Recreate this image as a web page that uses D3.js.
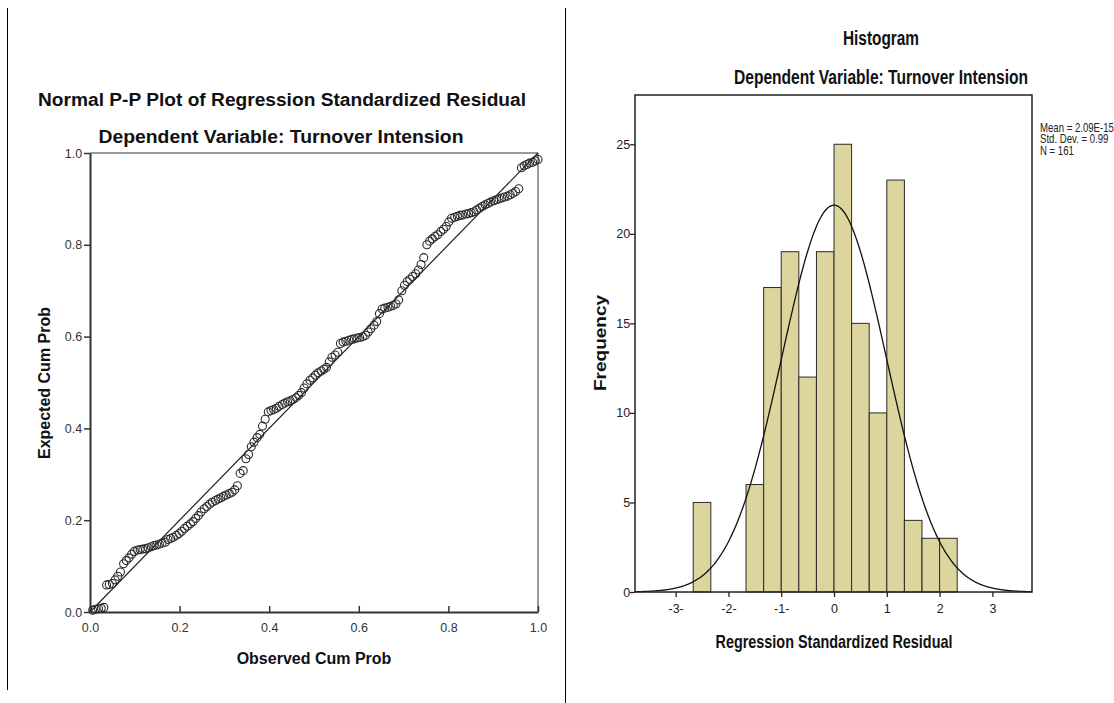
<!DOCTYPE html>
<html><head><meta charset="utf-8">
<script src="https://cdn.jsdelivr.net/npm/d3@7"></script>
<style>
html,body{margin:0;padding:0;background:#fff;}
svg{display:block;}
text{font-family:"Liberation Sans",Arial,sans-serif;}
</style></head>
<body>
<svg id="chart" width="1114" height="703"></svg>
<script>
// ---------- P-P plot data ----------
const ppObserved = [
0.006,0.012,0.019,0.025,0.031,0.037,0.043,0.050,0.056,0.062,0.068,0.075,0.081,0.087,0.093,0.099,0.106,0.112,0.118,0.124,
0.130,0.137,0.143,0.149,0.155,0.161,0.168,0.174,0.180,0.186,0.193,0.199,0.205,0.211,0.217,0.224,0.230,0.236,0.242,0.248,
0.255,0.261,0.267,0.273,0.280,0.286,0.292,0.298,0.304,0.311,0.317,0.323,0.329,0.335,0.342,0.348,0.354,0.360,0.366,0.373,
0.379,0.385,0.391,0.398,0.404,0.410,0.416,0.422,0.429,0.435,0.441,0.447,0.453,0.460,0.466,0.472,0.478,0.484,0.491,0.497,
0.503,0.509,0.516,0.522,0.528,0.534,0.540,0.547,0.553,0.559,0.565,0.571,0.578,0.584,0.590,0.596,0.602,0.609,0.615,0.621,
0.627,0.634,0.640,0.646,0.652,0.658,0.665,0.671,0.677,0.683,0.689,0.696,0.702,0.708,0.714,0.720,0.727,0.733,0.739,0.745,
0.752,0.758,0.764,0.770,0.776,0.783,0.789,0.795,0.801,0.807,0.814,0.820,0.826,0.832,0.839,0.845,0.851,0.857,0.863,0.870,
0.876,0.882,0.888,0.894,0.901,0.907,0.913,0.919,0.925,0.932,0.938,0.944,0.950,0.957,0.963,0.969,0.975,0.981,0.988,0.994,1.000];
const ppExpected = [
0.004,0.006,0.007,0.008,0.010,0.059,0.060,0.062,0.070,0.078,0.087,0.105,0.112,0.118,0.126,0.132,0.135,0.136,0.137,0.138,
0.140,0.142,0.145,0.146,0.148,0.150,0.152,0.158,0.160,0.163,0.167,0.171,0.176,0.182,0.187,0.192,0.197,0.204,0.210,0.218,
0.225,0.230,0.235,0.239,0.243,0.246,0.249,0.252,0.255,0.258,0.261,0.266,0.275,0.302,0.308,0.334,0.343,0.360,0.370,0.380,
0.387,0.405,0.420,0.436,0.439,0.441,0.444,0.448,0.452,0.455,0.458,0.460,0.463,0.467,0.472,0.478,0.488,0.497,0.505,0.510,
0.516,0.521,0.525,0.529,0.533,0.545,0.555,0.560,0.566,0.585,0.588,0.590,0.592,0.594,0.595,0.597,0.598,0.600,0.603,0.610,
0.617,0.625,0.633,0.650,0.660,0.662,0.664,0.666,0.668,0.671,0.680,0.700,0.712,0.720,0.725,0.731,0.737,0.745,0.757,0.772,
0.800,0.808,0.813,0.818,0.822,0.829,0.834,0.840,0.850,0.858,0.860,0.862,0.864,0.865,0.867,0.868,0.870,0.872,0.876,0.880,
0.884,0.887,0.890,0.893,0.896,0.898,0.900,0.902,0.904,0.906,0.909,0.912,0.916,0.922,0.968,0.972,0.975,0.978,0.980,0.983,0.986];
const ppTicks = [0.0, 0.2, 0.4, 0.6, 0.8, 1.0];

// ---------- Histogram data ----------
const binStarts = [-2.667,-1.667,-1.333,-1.0,-0.667,-0.333,0.0,0.333,0.667,1.0,1.333,1.667,2.0];
const binCounts = [5,6,17,19,12,19,25,15,10,23,4,3,3];
const binWidth = 0.333;
const histYTicks = [0,5,10,15,20,25];
const histXTicks = [-3,-2,-1,0,1,2,3];
const histXTickLabels = ["-3-","-2-","-1-","0","1","2","3"];
const statMean = 2.09e-15, statSD = 0.99, statN = 161;
const statLines = ["Mean = 2.09E-15","Std. Dev. = 0.99","N = 161"];

const svg = d3.select("#chart");

// separators
svg.append("line").attr("x1",7.5).attr("x2",7.5).attr("y1",8).attr("y2",690).attr("stroke","#000").attr("stroke-width",1);
svg.append("line").attr("x1",565.5).attr("x2",565.5).attr("y1",8).attr("y2",703).attr("stroke","#000").attr("stroke-width",1);

// ================= P-P plot =================
const px = d3.scaleLinear().domain([0,1]).range([90,538]);
const py = d3.scaleLinear().domain([0,1]).range([612,153]);
const L = svg.append("g");

L.append("text").attr("x",282).attr("y",106).attr("text-anchor","middle")
 .attr("font-size",17.5).attr("font-weight","bold").attr("fill","#111")
 .attr("textLength",488).attr("lengthAdjust","spacingAndGlyphs")
 .text("Normal P-P Plot of Regression Standardized Residual");
L.append("text").attr("x",281).attr("y",143).attr("text-anchor","middle")
 .attr("font-size",17.5).attr("font-weight","bold").attr("fill","#111")
 .attr("textLength",365).attr("lengthAdjust","spacingAndGlyphs")
 .text("Dependent Variable: Turnover Intension");

// frame: top & right gray
L.append("line").attr("x1",px(0)).attr("x2",px(1)).attr("y1",py(1)).attr("y2",py(1)).attr("stroke","#777").attr("stroke-width",1.5);
L.append("line").attr("x1",px(1)).attr("x2",px(1)).attr("y1",py(1)).attr("y2",py(0)).attr("stroke","#777").attr("stroke-width",1.5);

const ppx = d3.axisBottom(px).tickValues(ppTicks).tickFormat(d3.format(".1f")).tickSize(6).tickSizeOuter(0);
const gx = L.append("g").attr("transform",`translate(0,${py(0)})`).call(ppx);
const ppy = d3.axisLeft(py).tickValues(ppTicks).tickFormat(d3.format(".1f")).tickSize(6).tickSizeOuter(0);
const gy = L.append("g").attr("transform",`translate(${px(0)},0)`).call(ppy);
[gx,gy].forEach(g=>{
  g.select(".domain").attr("stroke","#333").attr("stroke-width",2);
  g.selectAll(".tick line").attr("stroke","#333").attr("stroke-width",1.5);
  g.selectAll(".tick text").attr("font-family","Liberation Sans, Arial, sans-serif").attr("font-size",12.5).attr("fill","#333");
});
gx.selectAll(".tick line").attr("y1",-6).attr("y2",0);
gx.selectAll(".tick text").attr("y",11).attr("dy","0.71em");
gy.selectAll(".tick text").attr("dx","0.1em");

L.append("text").attr("x",314).attr("y",664).attr("text-anchor","middle")
 .attr("font-size",16).attr("font-weight","bold").attr("fill","#111").text("Observed Cum Prob");
L.append("text").attr("transform","translate(50,383) rotate(-90)").attr("text-anchor","middle")
 .attr("font-size",16).attr("font-weight","bold").attr("fill","#111").text("Expected Cum Prob");

// reference line
L.append("line").attr("x1",px(0)).attr("y1",py(0)).attr("x2",px(1)).attr("y2",py(1))
 .attr("stroke","#222").attr("stroke-width",1.2);

// points
L.append("g").selectAll("circle").data(ppObserved.map((d,i)=>[d,ppExpected[i]])).join("circle")
 .attr("cx",d=>px(d[0])).attr("cy",d=>py(d[1])).attr("r",4)
 .attr("fill","none").attr("stroke","#2b2b2b").attr("stroke-width",1.1);

// ================= Histogram =================
const hx = d3.scaleLinear().domain([-3.77,3.75]).range([635,1032]);
const hy = d3.scaleLinear().domain([0,27.75]).range([592,95]);
const R = svg.append("g");
const cond = (sel,len)=>sel.attr("textLength",len).attr("lengthAdjust","spacingAndGlyphs");

cond(R.append("text").attr("x",881).attr("y",45).attr("text-anchor","middle")
 .attr("font-size",20).attr("fill","#111").attr("font-weight","bold").text("Histogram"),76);
cond(R.append("text").attr("x",881).attr("y",84).attr("text-anchor","middle")
 .attr("font-size",20).attr("fill","#111").attr("font-weight","bold").text("Dependent Variable: Turnover Intension"),294);

// bars
R.append("g").selectAll("rect").data(binStarts.map((d,i)=>({x0:d,c:binCounts[i]}))).join("rect")
 .attr("x",d=>hx(d.x0)).attr("width",d=>hx(d.x0+binWidth)-hx(d.x0))
 .attr("y",d=>hy(d.c)).attr("height",d=>hy(0)-hy(d.c))
 .attr("fill","#dcd59d").attr("stroke","#2a2a2a").attr("stroke-width",1);

// normal curve (fitted from the reported mean, sd and N)
const curvePts = d3.range(-3.77,3.751,0.02).map(z=>[z, statN*binWidth*Math.exp(-0.5*((z-statMean)/statSD)**2)/(statSD*Math.sqrt(2*Math.PI))]);
R.append("path").datum(curvePts).attr("d",d3.line().x(d=>hx(d[0])).y(d=>hy(d[1])).curve(d3.curveBasis))
 .attr("fill","none").attr("stroke","#111").attr("stroke-width",1.3);

// frame
R.append("rect").attr("x",635).attr("y",95).attr("width",1032-635).attr("height",592-95)
 .attr("fill","none").attr("stroke","#222").attr("stroke-width",1.5);

const hxa = d3.axisBottom(hx).tickValues(histXTicks).tickFormat((d,i)=>histXTickLabels[i]).tickSize(5).tickSizeOuter(0);
const ghx = R.append("g").attr("transform",`translate(0,${hy(0)})`).call(hxa);
const hya = d3.axisLeft(hy).tickValues(histYTicks).tickSize(5).tickSizeOuter(0);
const ghy = R.append("g").attr("transform",`translate(${hx.range()[0]},0)`).call(hya);
[ghx,ghy].forEach(g=>{
  g.select(".domain").remove();
  g.selectAll(".tick line").attr("stroke","#222").attr("stroke-width",1.3);
  g.selectAll(".tick text").attr("font-family","Liberation Sans, Arial, sans-serif").attr("font-size",12.5).attr("fill","#222");
});
ghx.selectAll(".tick text").attr("y",12).attr("dy","0.71em");
ghy.selectAll(".tick text").attr("dx","0.25em");

cond(R.append("text").attr("x",834).attr("y",648).attr("text-anchor","middle")
 .attr("font-size",18.5).attr("font-weight","bold").attr("fill","#111").text("Regression Standardized Residual"),237);
cond(R.append("text").attr("transform","translate(606,343) rotate(-90)").attr("text-anchor","middle")
 .attr("font-size",16.5).attr("font-weight","bold").attr("fill","#111").text("Frequency"),96);

// stats (condensed, kept inside the picture)
R.append("g").attr("transform","translate(1040,0) scale(0.8,1)")
 .selectAll("text").data(statLines).join("text")
 .attr("x",0).attr("y",(d,i)=>132+i*11.5).attr("font-size",12).attr("fill","#222").text(d=>d);
</script>
</body></html>
